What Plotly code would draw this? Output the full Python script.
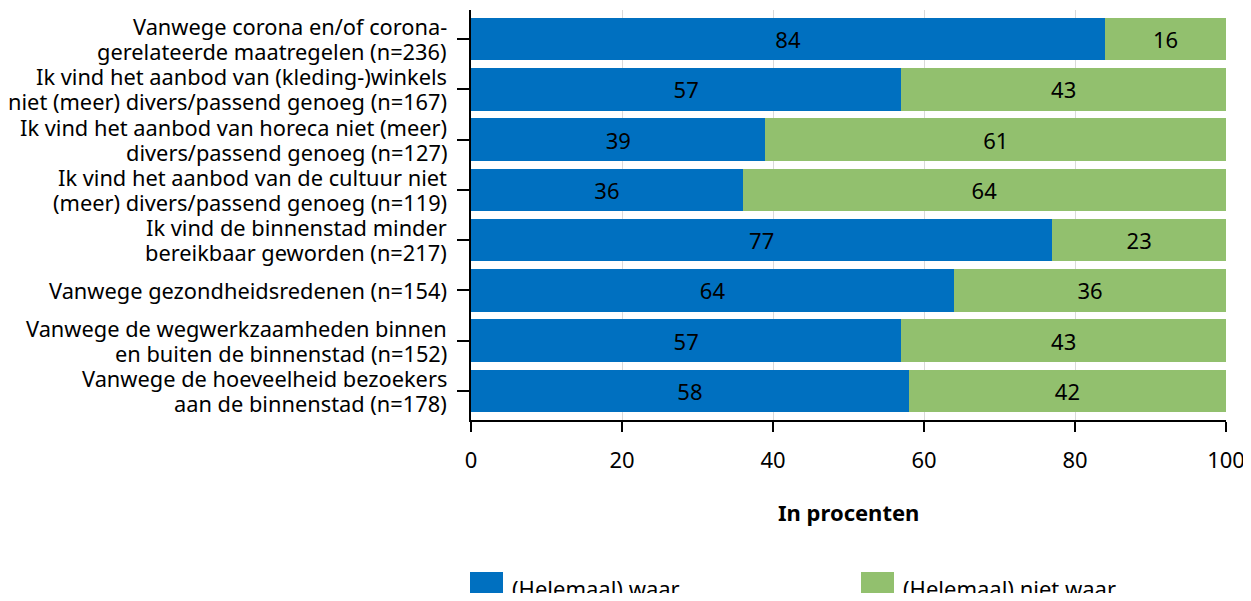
import plotly.graph_objects as go

categories = [
    "Vanwege corona en/of corona-<br>gerelateerde maatregelen (n=236)",
    "Ik vind het aanbod van (kleding-)winkels<br>niet (meer) divers/passend genoeg (n=167)",
    "Ik vind het aanbod van horeca niet (meer)<br>divers/passend genoeg (n=127)",
    "Ik vind het aanbod van de cultuur niet<br>(meer) divers/passend genoeg (n=119)",
    "Ik vind de binnenstad minder<br>bereikbaar geworden (n=217)",
    "Vanwege gezondheidsredenen (n=154)",
    "Vanwege de wegwerkzaamheden binnen<br>en buiten de binnenstad (n=152)",
    "Vanwege de hoeveelheid bezoekers<br>aan de binnenstad (n=178)",
]
waar = [84, 57, 39, 36, 77, 64, 57, 58]
niet_waar = [16, 43, 61, 64, 23, 36, 43, 42]
series_names = ["(Helemaal) waar", "(Helemaal) niet waar"]
x_ticks = [0, 20, 40, 60, 80, 100]
axis_title = "In procenten"
colors = ["#0070c0", "#92c06e"]

FONT = "Noto Sans"
FS = 22
LFS = 21.8
# figure is offset by the page's 8px body margin
W, H = 1238, 585
ML, MR, MT, MB = 463, 20, 2, 173
PW, PH = W - ML - MR, H - MT - MB

fig = go.Figure()
for name, vals, col in zip(series_names, [waar, niet_waar], colors):
    fig.add_trace(go.Bar(
        y=categories, x=vals, name=name, orientation="h",
        marker=dict(color=col, line=dict(width=0)),
        text=[str(v) for v in vals], textposition="inside",
        insidetextanchor="middle",
        textfont=dict(family=FONT, size=FS, color="black"),
        showlegend=False,
    ))

fig.update_layout(
    barmode="stack", bargap=0.153,
    width=W, height=H,
    margin=dict(l=ML, r=MR, t=MT, b=MB, pad=0, autoexpand=False),
    plot_bgcolor="white", paper_bgcolor="white",
    font=dict(family=FONT, size=FS, color="black"),
    uniformtext=dict(minsize=FS, mode="show"),
)
fig.update_xaxes(
    range=[0, 100], tickvals=x_ticks, automargin=False,
    showgrid=True, gridcolor="#d9d9d9", gridwidth=1,
    showline=True, linecolor="black", linewidth=1.5,
    ticks="outside", ticklen=10, tickcolor="black", tickwidth=1.5,
    tickfont=dict(size=FS), zeroline=False,
    ticklabeloverflow="allow", ticklabelstandoff=10,
)
fig.update_yaxes(
    autorange="reversed", showgrid=False, showticklabels=False, automargin=False,
    showline=True, linecolor="black", linewidth=1.5,
    ticks="outside", ticklen=12, tickcolor="black", tickwidth=1.5,
)

# category labels with tight line spacing
LS = 25
for cat in categories:
    lines = cat.split("<br>")
    n = len(lines)
    for i, ln in enumerate(lines):
        fig.add_annotation(
            xref="paper", yref="y", x=0, y=cat, xanchor="right", yanchor="middle",
            xshift=-22, yshift=((n - 1) / 2 - i) * LS, text=ln, showarrow=False,
            font=dict(family=FONT, size=LFS, color="black"),
        )

# axis title
fig.add_annotation(
    xref="paper", yref="paper", x=0.5, y=-(504 - 412) / PH,
    xanchor="center", yanchor="middle", text="<b>" + axis_title + "</b>",
    showarrow=False, font=dict(family=FONT, size=FS, color="black"),
)

# legend drawn as swatches + labels
legend_x = [462, 853]  # figure px
for lx, name, col in zip(legend_x, series_names, colors):
    fig.add_shape(type="rect", xref="paper", yref="paper",
                  x0=(lx - ML) / PW, x1=(lx + 33 - ML) / PW,
                  y0=-(585 - 412) / PH, y1=-(564 - 412) / PH,
                  fillcolor=col, line=dict(width=0))
    fig.add_annotation(xref="paper", yref="paper",
                       x=(lx + 40 - ML) / PW, y=-(580 - 412) / PH,
                       text=name, showarrow=False, xanchor="left", yanchor="middle",
                       font=dict(family=FONT, size=FS, color="black"))

fig.write_html("out.html")
